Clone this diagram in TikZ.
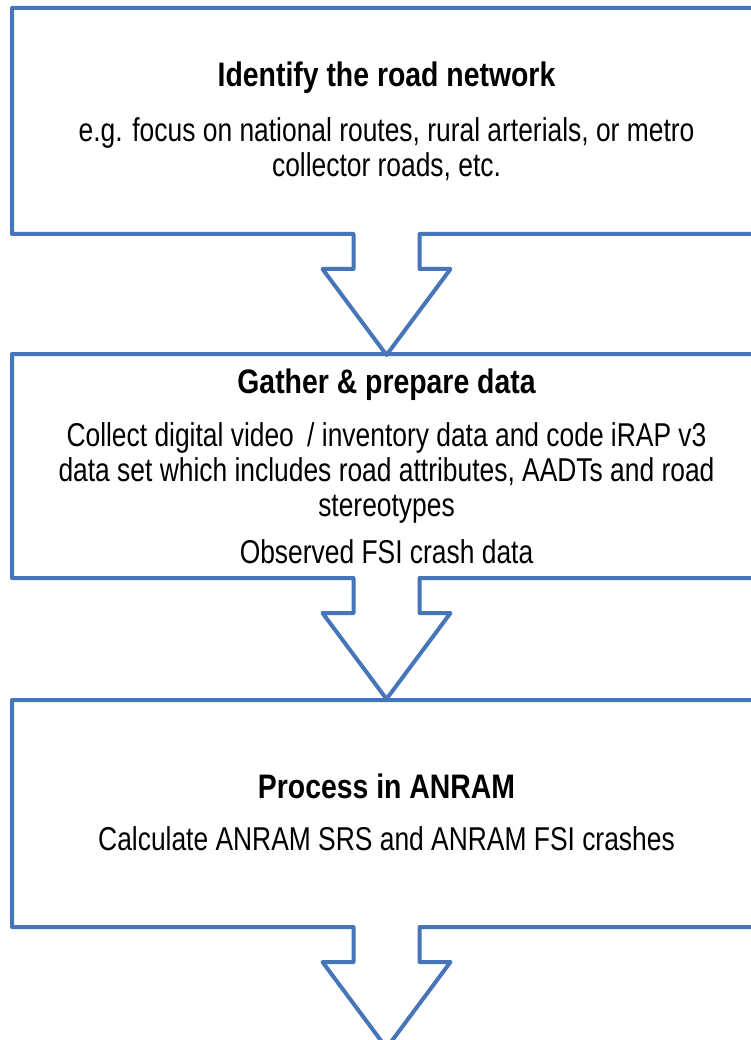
\documentclass[tikz,border=0pt]{standalone}
\usepackage{fontspec}
\newfontfamily\bodyfont[FakeStretch=0.8]{Liberation Sans}
\newfontfamily\headfont[FakeStretch=0.835]{Liberation Sans}
\usetikzlibrary{calc}
\definecolor{outlineblue}{RGB}{70,118,185}
\begin{document}
\begin{tikzpicture}[x=1pt,y=1pt,
  boxarea/.style={draw=none, minimum width=749pt, inner sep=0pt, outer sep=0pt},
  outline/.style={draw=outlineblue, line width=4pt, line join=round},
  headtext/.style={anchor=base, inner sep=0pt, font=\headfont\bfseries\fontsize{34}{34}\selectfont},
  bodytext/.style={anchor=base, inner sep=0pt, font=\bodyfont\fontsize{33}{33}\selectfont}]
\useasboundingbox (0,0) rectangle (751,-1040);
\clip (0,0) rectangle (751,-1040);
\fill[white] (0,0) rectangle (751,-1040);

% box areas
\node[boxarea, minimum height=226pt] (box1) at (386.5,-121) {};
\node[boxarea, minimum height=224pt] (box2) at (386.5,-466) {};
\node[boxarea, minimum height=227pt] (box3) at (386.5,-813.5) {};

% outlines with block arrows
\foreach \b in {box1,box2,box3}{
  \draw[outline] ($(\b.south)+(-33,0)$) -- (\b.south west) -- (\b.north west)
    -- (\b.north east) -- (\b.south east) -- ($(\b.south)+(33,0)$)
    -- ++(0,-35) -- ++(31,0) -- ($(\b.south)+(0,-121)$)
    -- ($(\b.south)+(-64,-35)$) -- ++(31,0) -- cycle;
}

% texts box 1
\node[headtext] (t1) at (386.5,-87) {Identify the road network};
\node[bodytext] (b1a) at (386.5,-142) {e.g. focus on national routes, rural arterials, or metro};
\node[bodytext] (b1b) at (386.5,-176.5) {collector roads, etc.};

% texts box 2
\node[headtext] (t2) at (386.5,-393) {Gather \& prepare data};
\node[bodytext] (b2a) at (386.5,-446) {Collect digital video\hspace{6pt} / inventory data and code iRAP v3};
\node[bodytext] (b2b) at (386.5,-481.5) {data set which includes road attributes, AADTs and road};
\node[bodytext] (b2c) at (386.5,-516.5) {stereotypes};
\node[bodytext] (b2d) at (386.5,-563) {Observed FSI crash data};

% texts box 3
\node[headtext] (t3) at (386.5,-798) {Process in ANRAM};
\node[bodytext] (b3a) at (386.5,-850) {Calculate ANRAM SRS and ANRAM FSI crashes};
\end{tikzpicture}
\end{document}
